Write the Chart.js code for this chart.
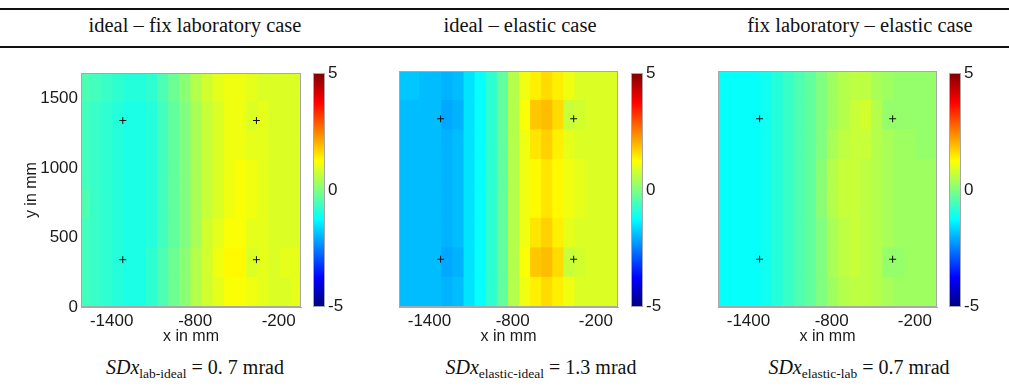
<!DOCTYPE html>
<html><head><meta charset="utf-8">
<script src="https://cdn.jsdelivr.net/npm/chart.js@4.4.1/dist/chart.umd.min.js"></script>
<style>
html,body{margin:0;padding:0;background:#fff;width:1009px;height:389px;overflow:hidden;}
body{position:relative;font-family:"Liberation Serif","Times New Roman",serif;color:#111;}
.rule{position:absolute;left:0;width:1009px;height:2px;background:#111;}
.hdr{position:absolute;width:340px;text-align:center;font-size:20.5px;white-space:nowrap;line-height:24px;}
.ftr{position:absolute;width:340px;text-align:center;font-size:20px;white-space:nowrap;line-height:22px;}
.ftr i{font-style:italic;}
.ftr .sb{font-size:13.5px;position:relative;top:4px;}
canvas{position:absolute;}
</style></head><body>
<div class="rule" style="top:8px"></div>
<div class="rule" style="top:46px"></div>
<div class="hdr" style="left:25px;top:13px">ideal – fix laboratory case</div>
<div class="hdr" style="left:350px;top:13px">ideal – elastic case</div>
<div class="hdr" style="left:690px;top:13px">fix laboratory – elastic case</div>
<div class="ftr" style="left:25px;top:356px"><i>SDx</i><span class="sb">lab-ideal</span> = 0. 7 mrad</div>
<div class="ftr" style="left:371px;top:356px"><i>SDx</i><span class="sb">elastic-ideal</span> = 1.3 mrad</div>
<div class="ftr" style="left:689px;top:356px"><i>SDx</i><span class="sb">elastic-lab</span> = 0.7 mrad</div>

<canvas id="p1" width="310" height="290" style="left:0px;top:60px"></canvas>
<canvas id="p2" width="248" height="290" style="left:379px;top:60px"></canvas>
<canvas id="p3" width="248" height="290" style="left:698px;top:60px"></canvas>
<canvas id="c1" width="40" height="260" style="left:313px;top:60px"></canvas>
<canvas id="c2" width="40" height="260" style="left:631px;top:60px"></canvas>
<canvas id="c3" width="40" height="260" style="left:949px;top:60px"></canvas>

<script>
// ---- data ----
const xCenters = [-1590,-1510,-1430,-1350,-1270,-1190,-1110,-1030,-950,-870,-790,-710,-630,-550,-470,-390,-310,-230,-150,-70];
const yEdges = [0,210,420,630,840,1050,1260,1470,1680];
const xTickValues = [-1400,-800,-200];
const yTickValues = [0,500,1000,1500];
const cbTickValues = [-5,0,5];
const crossX = [-1320,-360,-1320,-360];
const crossY = [1340,1340,340,340];

// rows listed bottom (y 0-210) to top (y 1470-1680), values in mrad
const labIdeal = [
 [-0.6,-0.7,-0.8,-0.9,-1.0,-1.0,-0.8,-0.5,-0.2,0.1,0.5,0.8,1.0,1.2,1.2,1.1,1.0,0.9,0.9,1.0],
 [-0.6,-0.7,-0.8,-0.9,-1.0,-1.0,-0.8,-0.5,-0.2,0.1,0.5,0.8,1.1,1.3,1.3,0.9,1.0,0.9,1.0,1.0],
 [-0.6,-0.7,-0.8,-0.9,-1.0,-1.0,-0.9,-0.6,-0.3,0.0,0.4,0.8,1.0,1.2,1.2,1.0,1.0,0.9,0.9,0.9],
 [-0.5,-0.7,-0.8,-0.9,-1.0,-1.0,-0.9,-0.6,-0.3,0.0,0.4,0.7,0.9,1.1,1.2,1.1,1.0,0.9,0.9,0.9],
 [-0.6,-0.7,-0.8,-0.9,-1.0,-1.0,-0.9,-0.6,-0.3,0.0,0.4,0.7,0.9,1.1,1.2,1.1,1.0,0.9,0.9,0.9],
 [-0.6,-0.7,-0.8,-0.9,-1.0,-1.0,-0.9,-0.6,-0.3,0.0,0.4,0.7,0.9,1.1,1.1,1.0,1.0,0.9,0.9,0.9],
 [-0.6,-0.7,-0.8,-0.9,-1.0,-1.0,-0.9,-0.6,-0.3,0.0,0.4,0.7,0.9,1.1,1.1,0.9,1.0,0.9,0.9,0.9],
 [-0.5,-0.6,-0.7,-0.8,-0.9,-0.9,-0.8,-0.5,-0.2,0.1,0.5,0.8,1.0,1.1,1.1,1.0,0.9,0.9,0.9,0.9]
];
const elasticIdeal = [
 [-1.9,-1.9,-1.9,-1.9,-2.0,-1.9,-1.5,-1.2,-0.8,-0.3,0.5,1.1,1.4,1.6,1.4,1.1,0.9,0.9,0.9,0.9],
 [-1.9,-1.9,-1.9,-1.9,-2.1,-2.0,-1.5,-1.2,-0.8,-0.3,0.5,1.2,1.8,1.9,1.6,0.7,0.8,0.9,0.9,0.9],
 [-1.9,-1.9,-1.9,-1.9,-2.0,-1.9,-1.5,-1.2,-0.8,-0.3,0.5,1.1,1.5,1.7,1.4,1.0,0.9,0.9,0.9,0.9],
 [-1.9,-1.9,-1.9,-1.9,-2.0,-1.9,-1.5,-1.2,-0.8,-0.3,0.5,1.1,1.3,1.5,1.3,1.1,1.0,0.9,0.9,0.9],
 [-1.9,-1.9,-1.9,-1.9,-2.0,-1.9,-1.5,-1.2,-0.8,-0.3,0.5,1.1,1.3,1.5,1.3,1.1,1.0,0.9,0.9,0.9],
 [-1.9,-1.9,-1.9,-1.9,-2.0,-1.9,-1.5,-1.2,-0.8,-0.3,0.5,1.1,1.5,1.7,1.4,1.0,0.9,0.9,0.9,0.9],
 [-1.9,-1.9,-1.9,-1.9,-2.1,-2.0,-1.5,-1.2,-0.8,-0.3,0.5,1.2,1.8,1.9,1.6,0.7,0.8,0.9,0.9,0.9],
 [-1.8,-1.8,-1.9,-1.9,-2.0,-1.9,-1.5,-1.2,-0.8,-0.3,0.5,1.1,1.4,1.6,1.4,1.1,0.9,0.9,0.9,0.9]
];
const elasticLab = [
 [-1.2,-1.2,-1.2,-1.2,-1.1,-0.9,-0.7,-0.5,-0.3,0.0,0.3,0.5,0.6,0.6,0.5,0.4,0.3,0.3,0.3,0.3],
 [-1.2,-1.2,-1.2,-1.2,-1.1,-0.9,-0.7,-0.5,-0.3,0.0,0.4,0.6,0.7,0.6,0.5,0.2,0.2,0.3,0.3,0.3],
 [-1.2,-1.2,-1.2,-1.2,-1.1,-0.9,-0.7,-0.5,-0.3,0.0,0.4,0.6,0.7,0.6,0.5,0.4,0.3,0.3,0.3,0.3],
 [-1.2,-1.2,-1.2,-1.2,-1.1,-0.9,-0.7,-0.5,-0.3,0.1,0.5,0.7,0.7,0.6,0.5,0.4,0.3,0.3,0.3,0.3],
 [-1.2,-1.2,-1.2,-1.2,-1.1,-0.9,-0.7,-0.5,-0.3,0.1,0.5,0.7,0.7,0.6,0.5,0.4,0.3,0.3,0.3,0.3],
 [-1.2,-1.2,-1.2,-1.2,-1.1,-0.9,-0.7,-0.5,-0.3,0.0,0.4,0.6,0.7,0.7,0.5,0.4,0.3,0.3,0.2,0.2],
 [-1.2,-1.2,-1.2,-1.2,-1.1,-0.9,-0.7,-0.5,-0.3,0.0,0.3,0.5,0.7,0.8,0.5,0.2,0.2,0.2,0.2,0.2],
 [-1.2,-1.2,-1.2,-1.2,-1.1,-0.9,-0.7,-0.5,-0.3,0.0,0.3,0.5,0.6,0.6,0.4,0.3,0.2,0.2,0.2,0.2]
];
const cbMin = -5, cbMax = 5;

// ---- rendering ----
function jet(v){
  const t = Math.min(1, Math.max(0, (v - cbMin) / (cbMax - cbMin)));
  const c = x => Math.round(255 * Math.min(1, Math.max(0, 1.5 - Math.abs(x))));
  return 'rgb(' + c(4*t-3) + ',' + c(4*t-2) + ',' + c(4*t-1) + ')';
}
const jetStops = [[0,'rgb(0,0,128)'],[0.125,'rgb(0,0,255)'],[0.375,'rgb(0,255,255)'],[0.625,'rgb(255,255,0)'],[0.875,'rgb(255,0,0)'],[1,'rgb(128,0,0)']];
const AX = '#a8a8a8';
const TXT = '#1a1a1a';
const SANS = '"Liberation Sans", Arial, sans-serif';

const framePlugin = {
  id: 'frame',
  afterDatasetsDraw(chart){
    const a = chart.chartArea, c = chart.ctx;
    c.save(); c.strokeStyle = AX; c.lineWidth = 1;
    c.strokeRect(Math.round(a.left)+0.5, Math.round(a.top)+0.5, Math.round(a.right-a.left)-1, Math.round(a.bottom-a.top)-1);
    c.restore();
  }
};

function heatChart(id, grid, showY, leftW, rightPad){
  const datasets = [{
    type: 'scatter', order: 0,
    data: crossX.map((x, i) => ({x: x, y: crossY[i]})),
    pointStyle: 'cross', pointRadius: 3.5, borderColor: '#111', backgroundColor: '#111', borderWidth: 1
  }];
  grid.forEach((row, ri) => {
    datasets.push({
      type: 'bar', order: 1,
      data: row.map((v, ci) => ({x: xCenters[ci], y: [yEdges[ri], yEdges[ri+1]]})),
      backgroundColor: row.map(jet), borderWidth: 0, grouped: false,
      barPercentage: 1, categoryPercentage: 1, inflateAmount: 0.6, clip: 0
    });
  });
  return new Chart(document.getElementById(id), {
    type: 'bar',
    data: { datasets: datasets },
    plugins: [framePlugin],
    options: {
      responsive: false, animation: false, devicePixelRatio: 1,
      layout: { padding: { top: 11, right: rightPad, left: 0, bottom: 0 } },
      plugins: { legend: { display: false }, tooltip: { enabled: false } },
      scales: {
        x: {
          type: 'linear', min: -1620, max: -40, offset: false,
          grid: { display: false, offset: false, drawTicks: false },
          border: { display: true, color: AX },
          ticks: { color: TXT, font: { family: SANS, size: 17 }, padding: 4, maxRotation: 0, callback: v => String(v) },
          afterBuildTicks: s => { s.ticks = xTickValues.map(v => ({value: v})); },
          afterFit: s => { s.height = 43; },
          title: { display: true, text: 'x in mm', color: TXT, font: { family: SANS, size: 16 }, padding: { top: 0, bottom: 4 } }
        },
        y: {
          type: 'linear', min: 0, max: 1680,
          grid: { display: false, drawTicks: false },
          border: { display: true, color: AX },
          ticks: { display: showY, color: TXT, font: { family: SANS, size: 17 }, padding: 3, callback: v => String(v) },
          afterBuildTicks: s => { s.ticks = yTickValues.map(v => ({value: v})); },
          afterFit: s => { s.width = leftW; },
          title: { display: showY, text: 'y in mm', color: TXT, font: { family: SANS, size: 16 }, padding: { top: 22, bottom: 0 } }
        }
      }
    }
  });
}

function colorbar(id){
  return new Chart(document.getElementById(id), {
    type: 'bar',
    data: { labels: ['cb'], datasets: [{
      data: [[cbMin, cbMax]],
      backgroundColor: ctx => {
        const a = ctx.chart.chartArea; if (!a) return '#888';
        const g = ctx.chart.ctx.createLinearGradient(0, a.bottom, 0, a.top);
        jetStops.forEach(s => g.addColorStop(s[0], s[1]));
        return g;
      },
      borderWidth: 0, barPercentage: 1, categoryPercentage: 1, inflateAmount: 0
    }]},
    plugins: [framePlugin],
    options: {
      responsive: false, animation: false, devicePixelRatio: 1,
      layout: { padding: { top: 10, bottom: 12, left: 0, right: 0 } },
      plugins: { legend: { display: false }, tooltip: { enabled: false } },
      scales: {
        x: { display: false },
        y: {
          position: 'right', min: cbMin, max: cbMax,
          grid: { display: false, drawTicks: false }, border: { display: false },
          ticks: { color: TXT, font: { family: SANS, size: 17 }, padding: 3, callback: v => String(v) },
          afterBuildTicks: s => { s.ticks = cbTickValues.map(v => ({value: v})); },
          afterFit: s => { s.width = 28; }
        }
      }
    }
  });
}

heatChart('p1', labIdeal, true, 81, 9);
heatChart('p2', elasticIdeal, false, 20, 9);
heatChart('p3', elasticLab, false, 20, 9);
colorbar('c1'); colorbar('c2'); colorbar('c3');
</script>
</body></html>
